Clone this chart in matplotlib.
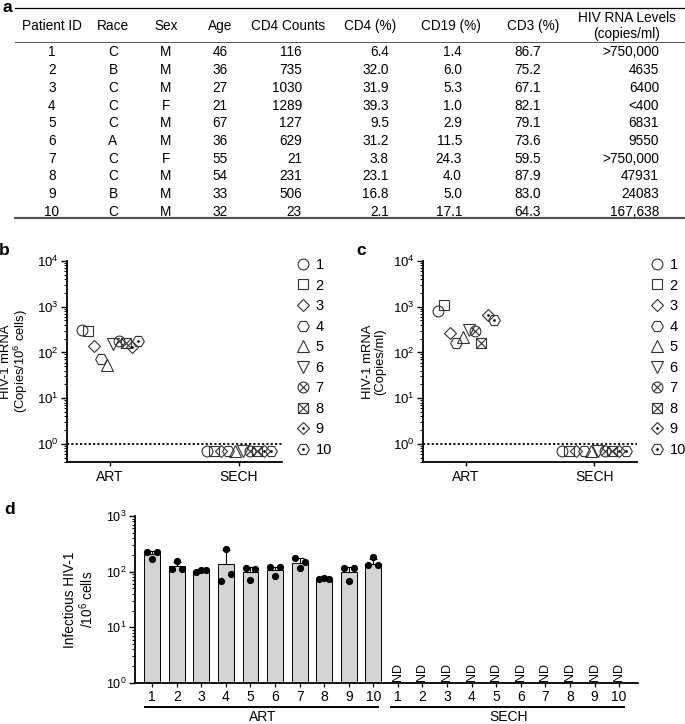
"""
HIV-1 patient table (a), HIV-1 mRNA (b, c) and infectious HIV-1 (d).
"""

import numpy as np
import matplotlib
matplotlib.use('Agg')
import matplotlib.pyplot as plt
from matplotlib.lines import Line2D
from matplotlib import transforms
from matplotlib.ticker import LogLocator, NullFormatter

plt.rcParams['font.family'] = ['Liberation Sans', 'DejaVu Sans']
plt.rcParams['mathtext.fontset'] = 'custom'
plt.rcParams['mathtext.rm'] = 'Liberation Sans'
plt.rcParams['mathtext.it'] = 'Liberation Sans:italic'
plt.rcParams['mathtext.bf'] = 'Liberation Sans:bold'

# ---- table data (panel a)
patient_ids = ['1', '2', '3', '4', '5', '6', '7', '8', '9', '10']
race = ['C', 'B', 'C', 'C', 'C', 'A', 'C', 'C', 'B', 'C']
sex = ['M', 'M', 'M', 'F', 'M', 'M', 'F', 'M', 'M', 'M']
age = ['46', '36', '27', '21', '67', '36', '55', '54', '33', '32']
cd4_counts = ['116', '735', '1030', '1289', '127', '629', '21', '231', '506', '23']
cd4_pct = ['6.4', '32.0', '31.9', '39.3', '9.5', '31.2', '3.8', '23.1', '16.8', '2.1']
cd19_pct = ['1.4', '6.0', '5.3', '1.0', '2.9', '11.5', '24.3', '4.0', '5.0', '17.1']
cd3_pct = ['86.7', '75.2', '67.1', '82.1', '79.1', '73.6', '59.5', '87.9', '83.0', '64.3']
hiv_rna = ['>750,000', '4635', '6400', '<400', '6831', '9550', '>750,000',
           '47931', '24083', '167,638']
headers = ['Patient ID', 'Race', 'Sex', 'Age', 'CD4 Counts', 'CD4 (%)',
           'CD19 (%)', 'CD3 (%)', 'HIV RNA Levels\n(copies/ml)']

# ---- panels b and c
groups = ['ART', 'SECH']
b_art = [315, 290, 140, 72, 53, 152, 180, 158, 133, 175]
b_sech = [0.68, 0.68, 0.68, 0.68, 0.68, 0.68, 0.68, 0.68, 0.68, 0.68]
c_art = [820, 1090, 265, 158, 220, 313, 288, 160, 665, 520]
c_sech = [0.68, 0.68, 0.68, 0.68, 0.68, 0.68, 0.68, 0.68, 0.68, 0.68]

# ---- panel d
d_art_bar = [212, 127, 104, 137, 100, 106, 145, 74, 100, 140]
d_art_err = [232, 152, 112, 250, 120, 122, 175, 77, 120, 172]
d_art_reps = [[228, 170, 228], [112, 158, 112], [97, 107, 107], [69, 256, 91],
              [115, 71, 112], [120, 85, 120], [176, 115, 151], [74, 76, 74],
              [115, 69, 115], [132, 186, 132]]

EDGE = '#333333'
W, H = 685, 724

# marker recipe per patient: (base, size, overlay, overlay size)
MARKERS = [
    ('o', 7.8, None, 0),
    ('s', 7.6, None, 0),
    ('D', 5.8, None, 0),
    ('H', 8.4, None, 0),
    ('^', 8.4, None, 0),
    ('v', 8.4, None, 0),
    ('o', 7.8, 'x', 5.4),
    ('s', 7.6, 'x', 7.6),
    ('D', 5.8, '.', 1.9),
    ('H', 8.4, '.', 1.9),
]


def fig_rect(x0, y0, x1, y1):
    """pixel box (top-left origin) -> figure fraction rect"""
    return [x0 / W, 1 - y1 / H, (x1 - x0) / W, (y1 - y0) / H]


def marker_handles(idx, **kw):
    base, ms, over, oms = MARKERS[idx]
    h = [Line2D([], [], marker=base, ls='none', ms=ms, mfc='none',
                mec=EDGE, mew=0.8, **kw)]
    if over == 'x':
        h.append(Line2D([], [], marker='x', ls='none', ms=oms, mec=EDGE,
                        mew=0.8, **kw))
    elif over == '.':
        h.append(Line2D([], [], marker='o', ls='none', ms=oms, mfc='black',
                        mec='black', mew=0, **kw))
    return h


def draw_points(ax, xc, values, offsets):
    for i, v in enumerate(values):
        for h in marker_handles(i):
            ax.plot([xc + offsets[i]], [v], ls='none', marker=h.get_marker(),
                    ms=h.get_markersize(), mfc=h.get_markerfacecolor(),
                    mec=h.get_markeredgecolor(), mew=h.get_markeredgewidth(),
                    zorder=3, clip_on=False)


def style_log_axis(ax, ymin, ymax):
    ax.set_yscale('log')
    ax.set_ylim(ymin, ymax)
    ax.yaxis.set_major_locator(LogLocator(base=10, numticks=10))
    ax.yaxis.set_minor_locator(LogLocator(base=10, subs=np.arange(2, 10), numticks=10))
    ax.yaxis.set_minor_formatter(NullFormatter())
    for s in ['top', 'right']:
        ax.spines[s].set_visible(False)
    for s in ['left', 'bottom']:
        ax.spines[s].set_linewidth(1.3)
    ax.tick_params(axis='y', which='major', length=4, width=1.0, labelsize=9.5, pad=2)
    ax.tick_params(axis='y', which='minor', length=2.2, width=0.7)


def scatter_panel(ax, art, sech, ylabel, letter, legend_x):
    style_log_axis(ax, 0.4, 1e4)
    ax.set_xlim(-1 / 3, 4 / 3)
    ax.axhline(1, color='black', ls=(0, (1.2, 1.2)), lw=1.3, zorder=2)
    draw_points(ax, 0, art, np.linspace(-0.22, 0.22, 10))
    draw_points(ax, 1, sech, np.linspace(-0.25, 0.25, 10))
    ax.set_xticks([0, 1])
    ax.set_xticklabels(groups, fontsize=10)
    ax.tick_params(axis='x', length=3, width=1.0, pad=3)
    ax.set_ylabel(ylabel, fontsize=9.4, linespacing=1.05)
    ax.yaxis.set_label_coords(-0.17, 0.5)
    ax.text(-0.29, 1.05, letter, transform=ax.transAxes, fontsize=12.5,
            fontweight='bold', va='center', ha='center')
    handles = [tuple(marker_handles(i)) for i in range(10)]
    ax.legend(handles, patient_ids, loc='upper left',
              bbox_to_anchor=(legend_x / W, 1 - 258 / H),
              bbox_transform=ax.figure.transFigure, frameon=False,
              fontsize=10.5, handlelength=1.0, handletextpad=0.35,
              labelspacing=0.45, borderpad=0, borderaxespad=0)


fig = plt.figure(figsize=(W / 100, H / 100), dpi=100)

# ---------------- panel a: table
ax_t = fig.add_axes([0, 0, 1, 1])
ax_t.set_xlim(0, W)
ax_t.set_ylim(H, 0)
ax_t.axis('off')
ax_t.text(3, 0.5, 'a', fontsize=12.5, fontweight='bold', va='top', ha='left')
ax_t.plot([15, W], [8, 8], color='black', lw=0.9)
ax_t.plot([15, W], [42, 42], color='#555555', lw=0.7)
ax_t.plot([15, W], [218, 218], color='#555555', lw=1.6)

header_x = [52, 113, 166, 220, 288, 370, 451, 533, 627]
for x, h in zip(header_x, headers):
    ax_t.text(x, 26, h, fontsize=9.8, ha='center', va='center', linespacing=1.1)

columns = [
    (patient_ids, 52, 'center'),
    (race, 113, 'center'),
    (sex, 166, 'center'),
    (age, 220, 'center'),
    (cd4_counts, 302, 'right'),
    (cd4_pct, 389, 'right'),
    (cd19_pct, 462, 'right'),
    (cd3_pct, 541, 'right'),
    (hiv_rna, 659, 'right'),
]
for vals, x, ha in columns:
    for i, v in enumerate(vals):
        ax_t.text(x, 52.5 + 17.7 * i, v, fontsize=9.8, ha=ha, va='center')

# ---------------- panels b and c
ax_b = fig.add_axes(fig_rect(67, 261, 282, 462))
scatter_panel(ax_b, b_art, b_sech, 'HIV-1 mRNA\n(Copies/10$^6$ cells)', 'b', 296)

ax_c = fig.add_axes(fig_rect(423, 261, 637, 462))
scatter_panel(ax_c, c_art, c_sech, 'HIV-1 mRNA\n(Copies/ml)', 'c', 650)

# ---------------- panel d
ax_d = fig.add_axes(fig_rect(135, 516, 638, 683))
style_log_axis(ax_d, 1, 1000)
ax_d.tick_params(axis='y', which='major', labelsize=9)
n = len(patient_ids)
art_x = np.arange(n)
sech_x = np.arange(n, 2 * n)
bar_err = [np.zeros(n), np.array(d_art_err) - np.array(d_art_bar)]
ax_d.bar(art_x, d_art_bar, width=0.65, color='#d4d4d4', edgecolor='black',
         linewidth=0.7, zorder=2)
ax_d.errorbar(art_x, d_art_bar, yerr=bar_err, fmt='none', ecolor='black',
              elinewidth=0.8, capsize=3, capthick=0.8, zorder=3)
jit = [-0.2, 0, 0.2]
for i, reps in enumerate(d_art_reps):
    ax_d.plot([art_x[i] + j for j in jit], reps, 'o', color='black', ms=4.2,
              zorder=4, ls='none')
for x in sech_x:
    ax_d.text(x, 1.07, 'ND', rotation=90, ha='center', va='bottom', fontsize=9)
ax_d.set_xlim(-0.7, 2 * n - 0.23)
ax_d.set_xticks(np.concatenate([art_x, sech_x]))
ax_d.set_xticklabels(patient_ids + patient_ids, fontsize=10)
ax_d.tick_params(axis='x', length=3, width=0.9, pad=2)
ax_d.set_ylabel('Infectious HIV-1\n/10$^6$ cells', fontsize=9.8, linespacing=1.05)
ax_d.yaxis.set_label_coords(-0.077, 0.5)
ax_d.text(-0.26, 1.04, 'd', transform=ax_d.transAxes, fontsize=12.5,
          fontweight='bold', va='center', ha='left')

tr = transforms.blended_transform_factory(ax_d.transData, ax_d.transAxes)
for xs, label in [(art_x, groups[0]), (sech_x, groups[1])]:
    ax_d.plot([xs[0] - 0.3, xs[-1] + 0.2], [-0.145, -0.145], color='black', lw=1.4,
              transform=tr, clip_on=False)
    ax_d.text((xs[0] + xs[-1]) / 2, -0.205, label, transform=tr, ha='center',
              va='center', fontsize=10)

fig.savefig('out.png', dpi=100)
